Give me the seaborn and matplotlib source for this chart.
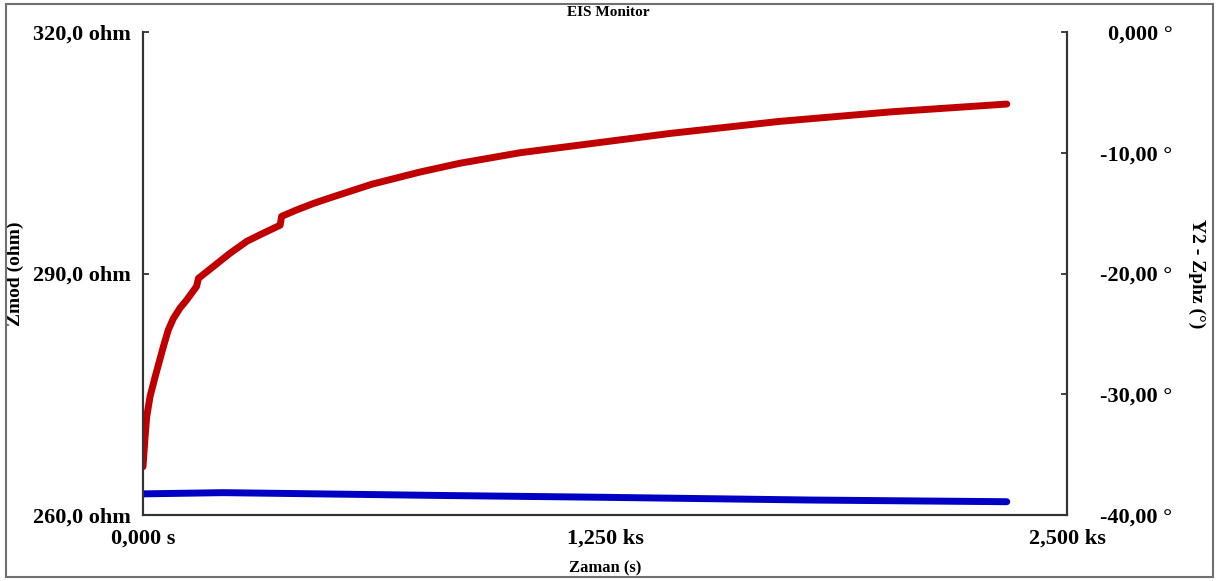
import matplotlib
matplotlib.use("Agg")
import matplotlib.pyplot as plt
import seaborn as sns
import pandas as pd
from matplotlib.patches import Rectangle
from matplotlib.ticker import FixedLocator

# Zmod (red, left axis)
zmod_t = [0, 5, 10, 19, 33, 55, 68.5, 82, 100, 118, 145, 150, 172,
          235, 281, 325, 371, 375, 416, 461, 506, 620, 749, 858, 1020,
          1291, 1426, 1723, 2029, 2337]
zmod_ohm = [266.0, 269.3, 272.2, 274.7, 277.2, 280.9, 283.0, 284.4,
            285.7, 286.7, 288.4, 289.4, 290.2, 292.5, 294.0, 295.0, 296.0,
            297.1, 297.9, 298.7, 299.4, 301.1, 302.6, 303.7, 305.0,
            306.6, 307.4, 308.9, 310.1, 311.05]

# Zphz (blue, right axis)
zphz_t = [0, 216, 400, 800, 1236, 1806, 2337]
zphz_deg = [-38.25, -38.15, -38.22, -38.38, -38.53, -38.76, -38.90]

x_ticks = [0, 1250, 2500]
x_labels = ["0,000 s", "1,250 ks", "2,500 ks"]
y1_ticks = [260, 290, 320]
y1_labels = ["260,0 ohm", "290,0 ohm", "320,0 ohm"]
y2_ticks = [-40, -30, -20, -10, 0]
y2_labels = ["-40,00 °", "-30,00 °", "-20,00 °", "-10,00 °", "0,000 °"]

sns.set_theme(style="white")
plt.rcParams['font.family'] = ['Liberation Serif', 'DejaVu Serif']
plt.rcParams['font.weight'] = 'bold'
plt.rcParams['text.color'] = 'black'
plt.rcParams['axes.labelcolor'] = 'black'

fig = plt.figure(figsize=(12.22, 5.81), dpi=100)
ax = fig.add_axes([143 / 1222, 1 - 515 / 581, 924 / 1222, 483 / 581])
ax2 = ax.twinx()

df1 = pd.DataFrame({"t": zmod_t, "z": zmod_ohm})
df2 = pd.DataFrame({"t": zphz_t, "p": zphz_deg})
sns.lineplot(data=df1, x="t", y="z", ax=ax, color="#c00000", linewidth=5,
             solid_capstyle="round", solid_joinstyle="round")
sns.lineplot(data=df2, x="t", y="p", ax=ax2, color="#0000c4", linewidth=5,
             solid_capstyle="round", solid_joinstyle="round")

ax.set_xlim(0, 2500)
ax.set_ylim(260, 320)
ax2.set_ylim(-40, 0)

ax.xaxis.set_major_locator(FixedLocator(x_ticks))
ax.set_xticklabels(x_labels, fontsize=16, fontweight="bold")
ax.yaxis.set_major_locator(FixedLocator(y1_ticks))
ax.set_yticklabels(y1_labels, fontsize=16, fontweight="bold")
ax2.yaxis.set_major_locator(FixedLocator(y2_ticks))
ax2.set_yticklabels(y2_labels, fontsize=16, fontweight="bold")
for lbl in ax2.get_yticklabels():
    lbl.set_horizontalalignment("right")

ax.tick_params(axis="both", direction="in", length=4, width=1.2, colors="#222222",
               labelcolor="black")
ax.tick_params(axis="y", pad=9)
ax.tick_params(axis="x", pad=10)
ax2.tick_params(axis="y", direction="in", length=4, width=1.2, colors="#222222",
                labelcolor="black", pad=76)

ax.set_xlabel("Zaman (s)", fontsize=12, fontweight="bold")
ax.set_ylabel("Zmod (ohm)", fontsize=14, fontweight="bold")
ax2.set_ylabel("Y2 - Zphz (°)", fontsize=14, fontweight="bold", rotation=270)
ax.xaxis.set_label_coords(0.5, -0.094)
ax.yaxis.set_label_coords(-0.129, 0.5)
ax2.yaxis.set_label_coords(1.150, 0.5)

for a in (ax, ax2):
    a.spines["top"].set_visible(False)
    for s in ("left", "right", "bottom"):
        a.spines[s].set_color("#333333")
        a.spines[s].set_linewidth(1.5)

fig.text(608 / 1222, 1 - 13 / 581, "EIS Monitor", ha="center", va="center",
         fontsize=11, fontweight="bold", color="black")

# outer grey frame
fig.patches.append(Rectangle((6 / 1222, 4 / 581), 1207 / 1222, 573 / 581,
                             transform=fig.transFigure, fill=False,
                             edgecolor="#707070", linewidth=1.5))

fig.savefig("out.png", dpi=100)
